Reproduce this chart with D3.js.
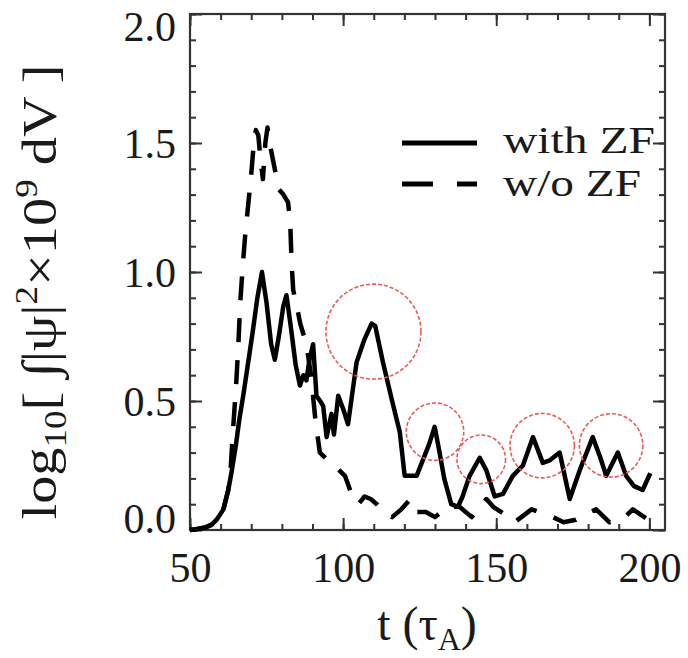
<!DOCTYPE html>
<html>
<head>
<meta charset="utf-8">
<script src="https://cdn.jsdelivr.net/npm/d3@7"></script>
<style>
  html, body { margin: 0; padding: 0; background: #fff; }
  svg { display: block; }
  text { font-family: "Liberation Serif", "Times New Roman", "DejaVu Serif", serif; fill: #1a1a1a; }
</style>
</head>
<body>
<svg id="chart" width="688" height="658"></svg>
<script>
// ---- data ----
const tWith = [50, 52, 55, 57, 58.7, 60.9, 62.5, 63.5, 65, 66, 67.5, 69, 70.5, 72, 73.5,
  75, 76.5, 77.7, 79, 80.5, 81.5, 83, 84.5, 85.9, 87, 88, 89, 90.2, 91.3, 92.5, 93.5,
  94.6, 96.2, 97, 98.4, 100, 101.6, 104.4, 107, 109.3, 110.5, 113, 116, 118.5, 120.1,
  124, 126, 128, 129.9, 131.5, 133, 135.3, 137.5, 139, 141.3, 144.6, 146.8, 149.5,
  152.2, 155.4, 158.7, 162, 165.2, 167.5, 170.7, 174, 177.2, 181.5, 184, 185.9, 189.7,
  192.4, 195, 197.8, 200.3];
const vWith = [0.00, 0.003, 0.01, 0.02, 0.04, 0.08, 0.155, 0.22, 0.33, 0.42, 0.53, 0.65, 0.77, 0.9, 1.0,
  0.88, 0.72, 0.66, 0.75, 0.87, 0.91, 0.78, 0.64, 0.56, 0.6, 0.58, 0.66, 0.72, 0.52, 0.5, 0.48,
  0.36, 0.45, 0.37, 0.52, 0.47, 0.41, 0.65, 0.74, 0.80, 0.79, 0.65, 0.5, 0.38, 0.21,
  0.21, 0.27, 0.33, 0.40, 0.30, 0.2, 0.10, 0.09, 0.13, 0.21, 0.28, 0.23, 0.13,
  0.14, 0.21, 0.25, 0.36, 0.26, 0.27, 0.30, 0.12, 0.23, 0.36, 0.28, 0.21, 0.30,
  0.21, 0.17, 0.155, 0.22];

const tWo = [50, 52, 55, 57, 58.7, 60.9, 62.5, 63.2, 64, 65, 65.8, 66.4, 67.2, 68, 69, 70, 70.7, 71.5,
  72.3, 73, 73.8, 74.6, 75.3, 76, 77, 78, 79, 80.5, 82, 82.7, 83.2, 83.7, 85, 86, 88, 89.5,
  91, 92.4, 95, 98, 100.6, 103, 105, 107, 109, 111, 113.6, 116, 119, 122, 124, 127, 130,
  134, 138, 142, 146.8, 149, 152.2, 156, 161.5, 165, 168.5, 172, 176, 179, 182.6, 187,
  191.9, 194.6, 199];
const vWo = [0.00, 0.003, 0.01, 0.02, 0.04, 0.08, 0.155, 0.22, 0.38, 0.55, 0.72, 0.88, 1.02, 1.14, 1.26, 1.38, 1.48, 1.55,
  1.53, 1.44, 1.36, 1.5, 1.56, 1.5, 1.44, 1.38, 1.32, 1.3, 1.27, 1.2, 1.03, 0.93, 0.86, 0.8, 0.72, 0.6,
  0.42, 0.3, 0.27, 0.24, 0.21, 0.13, 0.1, 0.13, 0.12, 0.1, 0.065, 0.05, 0.08, 0.12, 0.07, 0.07, 0.05,
  0.09, 0.09, 0.05, 0.12, 0.09, 0.065, 0.03, 0.08, 0.065, 0.05, 0.03, 0.04, 0.06, 0.08, 0.03,
  0.05, 0.08, 0.045];

// highlighted peaks (red circles): centre time, centre value
const circleT = [109.9, 130.0, 145.1, 165.0, 187.5];
const circleV = [0.769, 0.381, 0.274, 0.327, 0.328];
const circleR = [47.5, 28.7, 24.3, 32.2, 31.7];

const xMajor = [50, 100, 150, 200];
const xMinor = d3.range(50, 205, 10);
const yMajor = [0, 0.5, 1.0, 1.5, 2.0];
const yMinor = d3.range(0, 2.01, 0.1);

const legendLabels = ["with ZF", "w/o ZF"];

// ---- layout ----
const svg = d3.select("#chart");
const L = 190, R = 665, T = 14, B = 530;
const x = d3.scaleLinear().domain([50, 205.1]).range([L, R]);
const y = d3.scaleLinear().domain([0, 2]).range([B, T]);
const FONT = 42;

// frame
svg.append("rect").attr("x", L).attr("y", T).attr("width", R - L).attr("height", B - T)
  .attr("fill", "none").attr("stroke", "#333").attr("stroke-width", 2.2);

function styleAxis(g) {
  g.select(".domain").remove();
  g.selectAll(".tick line").attr("stroke", "#333").attr("stroke-width", 2);
}
// bottom
svg.append("g").attr("transform", `translate(0,${B})`)
  .call(d3.axisBottom(x).tickValues(xMinor).tickSize(-6).tickFormat(""))
  .call(styleAxis);
const bx = svg.append("g").attr("transform", `translate(0,${B})`)
  .call(d3.axisBottom(x).tickValues(xMajor).tickSize(-12).tickPadding(22).tickFormat(d3.format("d")))
  .call(styleAxis);
bx.selectAll("text").attr("font-size", FONT).attr("font-family", null);
// top
svg.append("g").attr("transform", `translate(0,${T})`)
  .call(d3.axisTop(x).tickValues(xMinor).tickSize(-6).tickFormat(""))
  .call(styleAxis);
svg.append("g").attr("transform", `translate(0,${T})`)
  .call(d3.axisTop(x).tickValues(xMajor).tickSize(-12).tickFormat(""))
  .call(styleAxis);
// left
svg.append("g").attr("transform", `translate(${L},0)`)
  .call(d3.axisLeft(y).tickValues(yMinor).tickSize(-6).tickFormat(""))
  .call(styleAxis);
const ly = svg.append("g").attr("transform", `translate(${L},0)`)
  .call(d3.axisLeft(y).tickValues(yMajor).tickSize(-12).tickPadding(14).tickFormat(d3.format(".1f")))
  .call(styleAxis);
ly.selectAll("text").attr("font-size", FONT).attr("font-family", null)
  .attr("dy", d => d === 2 ? "0.62em" : (d === 0 ? "0.05em" : "0.34em"));
// right
svg.append("g").attr("transform", `translate(${R},0)`)
  .call(d3.axisRight(y).tickValues(yMinor).tickSize(-6).tickFormat(""))
  .call(styleAxis);
svg.append("g").attr("transform", `translate(${R},0)`)
  .call(d3.axisRight(y).tickValues(yMajor).tickSize(-12).tickFormat(""))
  .call(styleAxis);

// lines
const line = d3.line().x(d => x(d[0])).y(d => y(d[1]));
const withData = tWith.map((t, i) => [t, vWith[i]]);
const woData = tWo.map((t, i) => [t, vWo[i]]);

svg.append("path").datum(woData).attr("d", line)
  .attr("fill", "none").attr("stroke", "#000").attr("stroke-width", 4.5)
  .attr("stroke-dasharray", "24,18").attr("stroke-linejoin", "round");
svg.append("path").datum(withData).attr("d", line)
  .attr("fill", "none").attr("stroke", "#000").attr("stroke-width", 4.5)
  .attr("stroke-linejoin", "round");

// red circles
svg.append("g").selectAll("circle").data(circleT).join("circle")
  .attr("cx", d => x(d)).attr("cy", (d, i) => y(circleV[i])).attr("r", (d, i) => circleR[i])
  .attr("fill", "none").attr("stroke", "#ee5a5a").attr("stroke-width", 1.6)
  .attr("stroke-dasharray", "4,2");

// legend
const lg = svg.append("g");
lg.append("line").attr("x1", 402).attr("x2", 477).attr("y1", 143).attr("y2", 143)
  .attr("stroke", "#000").attr("stroke-width", 5);
lg.append("line").attr("x1", 402).attr("x2", 477).attr("y1", 184).attr("y2", 184)
  .attr("stroke", "#000").attr("stroke-width", 5).attr("stroke-dasharray", "31,24");
lg.selectAll("text").data(legendLabels).join("text")
  .attr("x", 503).attr("y", (d, i) => i === 0 ? 153 : 196)
  .attr("font-size", 38).attr("textLength", (d, i) => i === 0 ? 152 : 138)
  .attr("lengthAdjust", "spacingAndGlyphs").text(d => d);

// axis titles
const xt = svg.append("text").attr("x", 427).attr("y", 640).attr("text-anchor", "middle")
  .attr("font-size", 48);
xt.append("tspan").text("t (τ");
xt.append("tspan").attr("font-size", 32).attr("dy", 10).text("A");
xt.append("tspan").attr("dy", -10).text(")");

const yt = svg.append("text").attr("transform", "translate(56,292) rotate(-90)")
  .attr("text-anchor", "middle").attr("font-size", 49)
  .attr("textLength", 455).attr("lengthAdjust", "spacingAndGlyphs");
yt.append("tspan").text("log");
yt.append("tspan").attr("font-size", 32).attr("dy", 10).text("10");
yt.append("tspan").attr("dy", -10).text("[ ∫|ψ|");
yt.append("tspan").attr("font-size", 32).attr("dy", -19).text("2");
yt.append("tspan").attr("dy", 19).text("×10");
yt.append("tspan").attr("font-size", 32).attr("dy", -19).text("9");
yt.append("tspan").attr("dy", 19).text(" dV ]");
</script>
</body>
</html>
